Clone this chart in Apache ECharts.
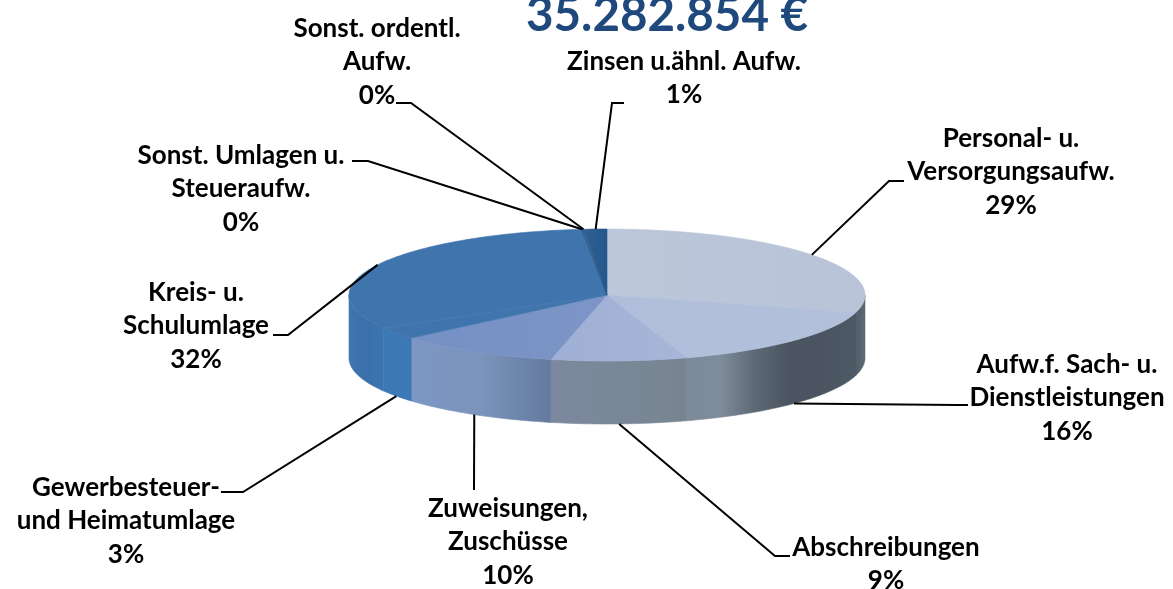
<!DOCTYPE html>
<html>
<head>
<meta charset="utf-8">
<title>Aufwendungen</title>
<script src="https://cdn.jsdelivr.net/npm/echarts@6/dist/echarts.min.js"></script>
<style>
	html,body{margin:0;padding:0;background:#fff;}
	#main{width:1173px;height:589px;}
</style>
</head>
<body>
<div id="main"></div>
<script>
var titleText='35.282.854 €';
var categories=['Personal- u.\nVersorgungsaufw.','Aufw.f. Sach- u.\nDienstleistungen','Abschreibungen','Zuweisungen,\nZuschüsse','Gewerbesteuer-\nund Heimatumlage','Kreis- u.\nSchulumlage','Sonst. Umlagen u.\nSteueraufw.','Sonst. ordentl.\nAufw.','Zinsen u.ähnl. Aufw.'];
var values=[29.2,15.8,8.5,10.2,3,31.7,0.1,0.1,1.4];

// colours, top face and side wall (left to right, evenly spaced stops)
var topColors=[['#bcc7da','#b8c3d7'],['#b0bedb','#b2c0da'],['#9fafd5','#a7b5d8'],['#7490c4','#7d95c6'],['#3f74ac','#3f74ac'],['#3f74ac','#3f74ac'],['#2c5c8e','#2c5c8e'],['#2c5c8e','#2c5c8e'],['#2f5f92','#24588c']];
var wallColors=[['#4f5b67','#5f6b77'],['#7d8a9a','#7f8c9b','#5d6975','#4a5561','#4a5561','#4d5965'],['#7c889d','#7a8798','#77858f'],['#7c96c5','#7b94bb','#647a9f'],['#3c78b6','#3c78b6'],['#3e76b0','#3a70a8','#3c76b2'],['#333','#333'],['#333','#333'],['#333','#333']];

// label block centre and leader elbows, page pixels
var labelPos=[[1011,172],[1067,398],[886,564],[508,542],[126,521],[196,326],[241,189],[377,62],[684,78]];
var leaderEnds=[[[889,181],[904,181]],[[957,405],[968,405]],[[775,556],[790,556]],[[474,490]],[[243,492],[221,492]],[[288,335],[273,335]],[[368,161],[352,161]],[[411,103],[396,103]],[[612,103],[624,103]]];

var pie={cx:607,cy:295,rx:258,ry:66,depth:63};

var total=0;
var starts=[];
for(var i=0;i<values.length;i++){
	starts.push(total);
	total+=values[i];
}

// angle is clockwise from 12 o'clock
function rimPoint(deg,dy){
	var a=deg*Math.PI/180;
	return [pie.cx+pie.rx*Math.sin(a),pie.cy-pie.ry*Math.cos(a)+(dy||0)];
}
function arcPoints(from,to,dy){
	var pts=[];
	var n=Math.max(2,Math.ceil(Math.abs(to-from)));
	for(var k=0;k<=n;k++){
		pts.push(rimPoint(from+(to-from)*k/n,dy));
	}
	return pts;
}
function gradient(c){
	return new echarts.graphic.LinearGradient(0,0,1,0,c.map(function(col,k){
		return {offset:k/(c.length-1),color:col};
	}));
}

function renderSlice(params,api){
	var i=params.dataIndex;
	var from=starts[i]/total*360;
	var to=(starts[i]+api.value(0))/total*360;
	var mid=(from+to)/2;
	var children=[];

	// side wall only shows on the front half
	var wFrom=Math.max(from,90);
	var wTo=Math.min(to,270);
	if(wTo>wFrom){
		var wallFill=gradient(wallColors[i]);
		children.push({
			type:'polygon',
			z2:1,
			shape:{points:arcPoints(wFrom,wTo,0).concat(arcPoints(wTo,wFrom,pie.depth))},
			style:{fill:wallFill,stroke:wallFill,lineWidth:0.6}
		});
	}
	var topFill=gradient(topColors[i]);
	children.push({
		type:'polygon',
		z2:2,
		shape:{points:[[pie.cx,pie.cy]].concat(arcPoints(from,to,0))},
		style:{fill:topFill,stroke:topFill,lineWidth:0.6}
	});

	var front=mid>90&&mid<270;
	children.push({
		type:'polyline',
		z2:3,
		shape:{points:[rimPoint(mid,front?pie.depth:0)].concat(leaderEnds[i])},
		style:{fill:null,stroke:'#000',lineWidth:2}
	});
	children.push({
		type:'text',
		z2:4,
		style:{
			x:labelPos[i][0],
			y:labelPos[i][1],
			text:categories[i]+'\n'+Math.round(api.value(0))+'%',
			align:'center',
			verticalAlign:'middle',
			fill:'#000',
			font:'bold 26px Lato',
			lineHeight:33.5
		}
	});
	return {type:'group',children:children};
}

var chart=echarts.init(document.getElementById('main'));
chart.setOption({
	animation:false,
	title:{
		text:titleText,
		left:521,
		top:-13,
		textStyle:{color:'#1f497d',fontFamily:'Lato',fontWeight:'bold',fontSize:47.5}
	},
	series:[{
		type:'custom',
		coordinateSystem:'none',
		data:values.map(function(v,i){return {name:categories[i],value:[v]};}),
		renderItem:renderSlice
	}]
});
</script>
</body>
</html>
